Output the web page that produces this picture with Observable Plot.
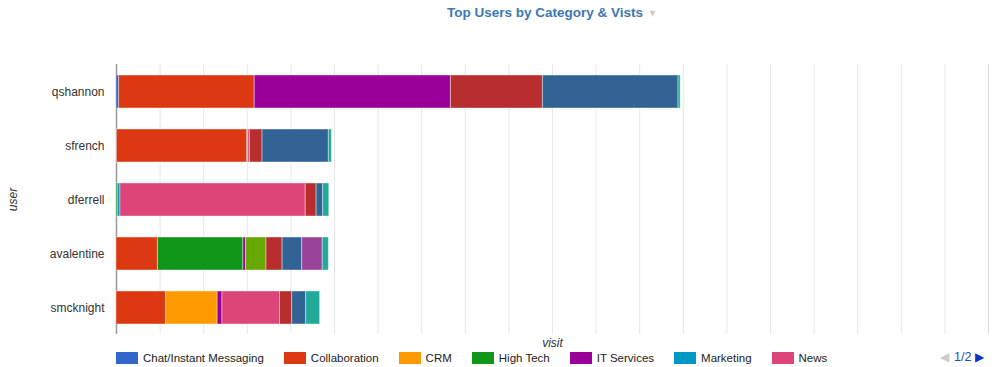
<!DOCTYPE html>
<html><head><meta charset="utf-8">
<script src="https://cdn.jsdelivr.net/npm/d3@7"></script>
<script src="https://cdn.jsdelivr.net/npm/@observablehq/plot@0.6"></script>
<style>
body{margin:0;background:#fff;font-family:"Liberation Sans",Arial,sans-serif;}
#wrap{width:1000px;height:367px;position:relative;overflow:hidden;background:#fff}
#title{height:40px;box-sizing:border-box;padding:3px 12px 0 116px;text-align:center;line-height:18px}
#title .t{font-size:13.5px;font-weight:bold;color:#3d77b3}
#title .tri{font-size:9px;color:#c8c8c8;margin-left:5px;vertical-align:1px}
#chart svg{display:block}
#chart g[aria-label="y-axis label"] text,#chart g[aria-label="x-axis label"] text{font-style:italic}
#legend{position:absolute;left:116px;top:351px;height:14px;display:flex;align-items:center;font-size:11.5px;color:#222}
.item{display:flex;align-items:center;margin-right:20px}
.sw{width:22px;height:12px;margin-right:5px;box-sizing:border-box}
#pager{position:absolute;left:940px;top:350px;font-size:12.5px;line-height:15px;white-space:nowrap}
#pager .l{color:#cccccc;font-size:12px;margin-right:5px}
#pager .n{color:#1f4bb8}
#pager .r{color:#0f2fcc;font-size:12px;margin-left:4px}
</style></head><body>
<div id="wrap">
<div id="title"><span class="t">Top Users by Category &amp; Vists</span><span class="tri">▼</span></div>
<div id="chart"></div>
<div id="legend"></div>
<div id="pager"><span class="l">◀</span><span class="n">1/2</span><span class="r">▶</span></div>
</div>
<script>
const users = ["qshannon", "sfrench", "dferrell", "avalentine", "smcknight"];
const categories = ["Chat/Instant Messaging", "Collaboration", "CRM", "High Tech", "IT Services", "Marketing", "News",
  "Online Services", "Portals", "Search Engines", "Social Networking", "Streaming Media"];
const colors = ["#3366cc", "#dc3912", "#ff9900", "#109618", "#990099", "#0099c6", "#dd4477",
  "#66aa00", "#b82e2e", "#316395", "#994499", "#22aa99"];
const legendPage1 = 7;
const gridTicks = [100, 200, 300, 400, 500, 600, 700, 800, 900, 1000, 1100, 1200, 1300, 1400, 1500, 1600, 1700, 1800, 1900];
const xMax = 2000;

// visits per category, in the order of `categories`
const qshannon   = [6, 311, 0, 0, 450, 0, 0, 0, 211, 311, 0, 5];
const sfrench    = [1, 299, 0, 2, 0, 0, 4, 0, 29, 152, 0, 7];
const dferrell   = [0, 0, 0, 3, 0, 6, 425, 0, 25, 15, 0, 14];
const avalentine = [0, 95, 0, 196, 6, 0, 0, 47, 37, 45, 47, 14];
const smcknight  = [0, 114, 118, 0, 11, 0, 132, 0, 28, 32, 0, 32];
const visitsByUser = [qshannon, sfrench, dferrell, avalentine, smcknight];

const data = [];
users.forEach((u, i) => categories.forEach((c, j) => {
  const v = visitsByUser[i][j];
  if (v > 0) data.push({user: u, category: c, visits: v});
}));

const chart = Plot.plot({
  width: 1000, height: 310,
  marginLeft: 116, marginRight: 12, marginTop: 24, marginBottom: 16,
  x: {domain: [0, xMax]},
  y: {domain: users, paddingInner: 0.39, paddingOuter: 0.195},
  color: {domain: categories, range: colors},
  style: {fontFamily: "Liberation Sans, Arial, sans-serif", fontSize: "12px", color: "#333", background: "#fff"},
  marks: [
    Plot.ruleX(gridTicks, {stroke: "#e8e8e8"}),
    Plot.ruleX([xMax], {stroke: "#d8d8d8"}),
    Plot.ruleX([0], {stroke: "#999", strokeWidth: 1.5}),
    Plot.barX(data, Plot.stackX({x: "visits", y: "user", fill: "category", stroke: "white", strokeOpacity: 0.4, strokeWidth: 1})),
    Plot.axisY({tickSize: 0, tickPadding: 12, label: "user", labelAnchor: "center", labelOffset: 108, fill: "#333"}),
    Plot.axisX({ticks: [], label: "visit", labelArrow: false, labelAnchor: "center", labelOffset: 12, fill: "#333"})
  ]
});
document.getElementById("chart").appendChild(chart);

const legend = document.getElementById("legend");
categories.slice(0, legendPage1).forEach((c, i) => {
  const it = document.createElement("div"); it.className = "item";
  const sw = document.createElement("div"); sw.className = "sw"; sw.style.background = colors[i];
  const tx = document.createElement("span"); tx.textContent = c;
  it.appendChild(sw); it.appendChild(tx); legend.appendChild(it);
});
</script>
</body></html>
